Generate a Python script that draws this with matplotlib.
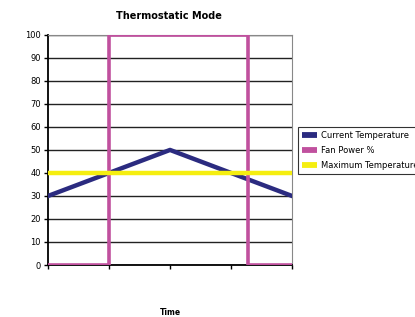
import matplotlib
matplotlib.use('Agg')
import matplotlib.pyplot as plt

# data
time_pts = [0, 1, 2, 3, 4]
current_temp = [30, 40, 50, 40, 30]
fan_time = [0, 1, 1, 3.28, 3.28, 4]
fan_power = [0, 0, 100, 100, 0, 0]
max_temp = [40, 40, 40, 40, 40]
y_ticks = list(range(0, 101, 10))

fig = plt.figure(figsize=(4.15, 3.17), dpi=100)
ax = fig.add_axes([0.1157, 0.164, 0.588, 0.726])

for y in y_ticks:
    ax.axhline(y, color='#222222', linewidth=1.0, zorder=1)

ax.plot(time_pts, current_temp, color='#2B2B80', linewidth=3.2, label='Current Temperature', zorder=3)
ax.plot(fan_time, fan_power, color='#C0509E', linewidth=2.6, label='Fan Power %', zorder=4)
ax.plot(time_pts, max_temp, color='#F5EE10', linewidth=3.2, label='Maximum Temperature', zorder=5)

ax.set_xlim(0, 4)
ax.set_ylim(0, 100)
ax.set_yticks(y_ticks)
ax.set_xticks(time_pts)
ax.set_xticklabels([])
ax.tick_params(axis='y', labelsize=6, length=3, width=1, pad=2)
ax.tick_params(axis='x', length=3, width=1)
for s in ['top', 'right']:
    ax.spines[s].set_color('#888888')
for s in ['left', 'bottom']:
    ax.spines[s].set_color('black')
    ax.spines[s].set_linewidth(1.3)

fig.text(0.407, 0.948, 'Thermostatic Mode', ha='center', va='center', fontsize=7, fontweight='bold')
fig.text(0.41, 0.013, 'Time', ha='center', va='center', fontsize=5.5, fontweight='bold')

leg = ax.legend(loc='upper left', bbox_to_anchor=(1.025, 0.6), fontsize=6.0, frameon=True,
                fancybox=False, edgecolor='black', handlelength=1.8, handletextpad=0.55,
                borderpad=0.45, labelspacing=0.75, borderaxespad=0)
leg.get_frame().set_linewidth(0.8)
for h in leg.get_lines():
    h.set_linewidth(4.2)
    h.set_solid_capstyle('butt')

fig.savefig('out.png', dpi=100, facecolor='white')
